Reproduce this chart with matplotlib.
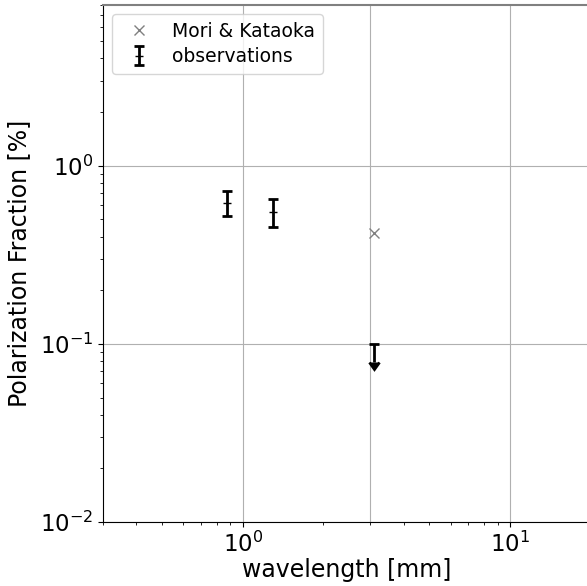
import matplotlib.pyplot as plt
import numpy as np

# observations (wavelength in mm, polarization fraction in %)
obs_wl = [0.87, 1.3]
obs_pf = [0.62, 0.55]
obs_err = [0.1, 0.1]

# upper limit at 3.1 mm
lim_wl = [3.1]
lim_pf = [0.1]
lim_err = [0.021]

# Mori & Kataoka model
model_wl = [3.1]
model_pf = [0.42]

fig = plt.figure(figsize=(5.87, 5.86), dpi=100)
ax = fig.add_axes([0.1755, 0.109, 0.83, 0.883])

ax.plot(model_wl, model_pf, 'x', color='gray', markersize=7, label='Mori & Kataoka')
ax.errorbar(obs_wl, obs_pf, yerr=obs_err, fmt='_', color='black', markersize=6,
            capsize=3.5, elinewidth=2, capthick=2, label='observations')
ax.errorbar(lim_wl, lim_pf, yerr=lim_err, uplims=True, fmt='none', color='black',
            capsize=3.5, elinewidth=2, capthick=2)

ax.axvline(3.0, color='#b0b0b0', linewidth=0.8, zorder=0)

ax.set_xscale('log')
ax.set_yscale('log')
ax.set_xlim(0.3, 20)
ax.set_ylim(0.01, 8)
ax.grid(True, which='major', zorder=0)
ax.set_axisbelow(True)

ax.spines['right'].set_visible(False)
ax.spines['top'].set_color('gray')
ax.spines['top'].set_linewidth(1.5)

ax.tick_params(axis='both', which='major', labelsize=16.5)
ax.set_xlabel('wavelength [mm]', fontsize=17, labelpad=1)
ax.set_ylabel('Polarization Fraction [%]', fontsize=17, labelpad=6)
ax.legend(loc='upper left', fontsize=13.5, labelspacing=0.35)

fig.savefig('out.png', dpi=100)
